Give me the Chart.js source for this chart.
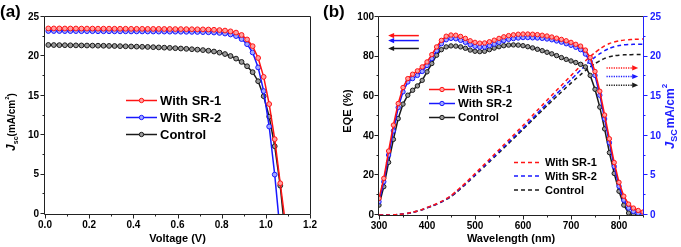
<!DOCTYPE html>
<html><head><meta charset="utf-8">
<script src="https://cdn.jsdelivr.net/npm/chart.js@4/dist/chart.umd.min.js"></script>
<style>
html,body{margin:0;padding:0;background:#fff;width:681px;height:247px;overflow:hidden}
canvas{position:absolute;top:0}
#ca{left:0}
#cb{left:318px}
</style></head><body>
<canvas id="ca" width="318" height="247"></canvas>
<canvas id="cb" width="363" height="247"></canvas>
<script>
// ---------- Panel (a): J-V data ----------
const voltage = [0.015,0.04,0.065,0.09,0.115,0.14,0.165,0.19,0.215,0.24,0.265,0.29,0.315,0.34,0.365,0.39,0.415,0.44,0.465,0.49,0.515,0.54,0.565,0.59,0.615,0.64,0.665,0.69,0.715,0.74,0.765,0.79,0.815,0.84,0.865,0.89,0.915,0.94,0.965,0.99,1.015,1.04,1.065];
const jvSR1 = [23.55,23.55,23.55,23.54,23.54,23.54,23.53,23.53,23.53,23.52,23.52,23.52,23.51,23.51,23.51,23.5,23.5,23.5,23.49,23.49,23.49,23.48,23.48,23.47,23.47,23.46,23.45,23.44,23.43,23.41,23.38,23.34,23.28,23.18,23.02,22.72,22.15,21.3,19.8,17.4,13.95,9.5,3.9];
const jvSR2 = [23.22,23.22,23.22,23.21,23.21,23.21,23.2,23.2,23.2,23.19,23.19,23.19,23.18,23.18,23.18,23.17,23.17,23.17,23.16,23.16,23.15,23.15,23.14,23.14,23.13,23.12,23.11,23.1,23.08,23.06,23.03,22.98,22.9,22.78,22.58,22.2,21.55,20.5,18.6,15.6,11.1,5.0];
const jvControl = [21.45,21.44,21.43,21.42,21.41,21.4,21.39,21.38,21.37,21.36,21.35,21.33,21.32,21.3,21.28,21.26,21.24,21.22,21.2,21.17,21.14,21.11,21.08,21.04,21.0,20.96,20.91,20.86,20.8,20.72,20.62,20.48,20.3,20.05,19.72,19.3,18.75,18.0,16.85,14.95,12.35,8.6,3.6];
const vocSR1 = 1.083, vocSR2 = 1.057, vocControl = 1.078;
const xTicksA = [0.0,0.2,0.4,0.6,0.8,1.0,1.2];
const yTicksA = [0,5,10,15,20,25];

// ---------- Panel (b): EQE data ----------
const wavelength = [300,310,320,330,340,350,360,370,380,390,400,410,420,430,440,450,460,470,480,490,500,510,520,530,540,550,560,570,580,590,600,610,620,630,640,650,660,670,680,690,700,710,720,730,740,750,760,770,780,790,800,810,820,830,840,850];
const eqeSR1 = [8.4,18.5,32.3,45.4,56.3,64.4,68.9,71.1,72.8,74.8,77.3,81.0,84.9,88.2,90.3,90.9,90.8,90.2,89.2,88.0,87.2,86.8,86.9,87.5,88.3,89.2,90.0,90.6,91.0,91.3,91.4,91.4,91.3,91.1,90.8,90.4,89.9,89.3,88.7,88.0,87.2,86.2,85.3,83.3,79.5,72.5,62.5,50.5,38.5,26.5,16.5,9.5,5.5,3.5,2.3,1.5];
const eqeSR2 = [6.7,16.8,30.3,42.5,54.3,62.2,67.2,68.9,70.5,72.5,75.5,79.0,83.0,86.5,88.5,89.2,89.0,88.2,87.2,86.0,85.2,84.8,84.8,85.5,86.3,87.2,88.1,88.7,89.1,89.4,89.6,89.6,89.5,89.4,89.2,88.9,88.5,87.9,87.3,86.5,85.7,84.7,83.5,81.3,77.5,70.5,60.5,48.5,36.5,24.5,14.5,7.5,3.5,1.8,0.9,0.5];
const eqeControl = [5.0,14.3,26.6,38.2,48.7,56.0,60.5,63.0,65.2,68.0,72.3,76.5,80.7,83.5,84.9,85.4,85.3,84.9,84.2,83.3,82.7,82.5,82.7,83.5,84.3,85.0,85.5,85.8,85.9,85.8,85.5,85.0,84.4,83.7,83.0,82.2,81.4,80.5,79.5,78.6,77.8,77.0,76.1,74.8,70.5,63.5,54.5,43.5,31.5,21.0,12.0,5.0,1.0,0.0,null,null];
const jscSR1 = [0,0,0,0.02,0.06,0.13,0.22,0.35,0.5,0.7,0.95,1.17,1.42,1.72,2.06,2.45,2.95,3.48,4.03,4.62,5.22,5.82,6.42,7.03,7.64,8.25,8.86,9.47,10.08,10.69,11.3,11.94,12.58,13.22,13.86,14.5,15.12,15.74,16.36,16.98,17.6,18.22,18.84,19.45,20.0,20.5,20.95,21.35,21.65,21.85,22.0,22.08,22.13,22.17,22.2,22.22];
const jscSR2 = [0,0,0,0.02,0.06,0.13,0.21,0.34,0.49,0.68,0.92,1.14,1.38,1.67,2.0,2.38,2.87,3.38,3.92,4.49,5.07,5.66,6.24,6.83,7.42,8.02,8.61,9.2,9.8,10.39,10.98,11.6,12.22,12.85,13.47,14.09,14.69,15.3,15.9,16.5,17.1,17.7,18.3,18.9,19.44,19.93,20.37,20.75,21.04,21.25,21.4,21.48,21.52,21.55,21.56,21.57];
const jscControl = [0,0,0,0.02,0.05,0.12,0.2,0.33,0.47,0.67,0.9,1.11,1.35,1.64,1.96,2.33,2.8,3.31,3.84,4.41,4.98,5.55,6.13,6.71,7.29,7.87,8.45,9.04,9.63,10.22,10.82,11.42,12.02,12.62,13.21,13.8,14.38,14.96,15.53,16.1,16.65,17.2,17.72,18.22,18.7,19.12,19.48,19.77,19.98,20.11,20.18,20.22,20.24,20.25,20.25,20.25];
const xTicksB = [300,400,500,600,700,800];
const yTicksEQE = [0,20,40,60,80,100];
const yTicksJsc = [0,5,10,15,20,25];
const labels = ['With SR-1','With SR-2','Control'];

// ---------- styles ----------
const FONT = '"Liberation Sans", Arial, Helvetica, sans-serif';
const RED = '#ff1414', BLUE = '#1818ff', BLACK = '#1a1a1a';
const RED_L = '#ffa0a0', BLUE_L = '#a0a8ff', BLACK_L = '#9a9a9a';
const AXBLUE = '#2020ff';

function pts(xs, ys, endX) {
  const out = [];
  ys.forEach((y, i) => { if (y !== null) out.push({x: xs[i], y: y}); });
  if (endX !== undefined) out.push({x: endX, y: 0});
  return out;
}
function isMajor(v, step) { return Math.abs(v / step - Math.round(v / step)) < 1e-6; }
function inList(v, list) { return list.some(t => Math.abs(t - v) < 1e-6); }

function richText(ctx, segs, cx, cy, rot, color) {
  ctx.save();
  ctx.translate(cx, cy); ctx.rotate(rot);
  let w = 0;
  segs.forEach(s => { ctx.font = s.f; s.w = ctx.measureText(s.t).width; w += s.w; });
  let x = -w / 2;
  ctx.fillStyle = color; ctx.textBaseline = 'alphabetic'; ctx.textAlign = 'left';
  segs.forEach(s => { ctx.font = s.f; ctx.fillText(s.t, x, s.dy); x += s.w + (s.gap || 0); });
  ctx.restore();
}

function drawLegend(ctx, chart, idxs, L) {
  idxs.forEach((di, r) => {
    const ds = chart.data.datasets[di];
    const y = L.ys[r];
    ctx.save();
    ctx.strokeStyle = ds.borderColor; ctx.lineWidth = 1.5;
    ctx.setLineDash(ds.borderDash || []);
    ctx.beginPath(); ctx.moveTo(L.x0, y); ctx.lineTo(L.x1, y); ctx.stroke();
    ctx.setLineDash([]);
    if (L.marker) {
      ctx.beginPath(); ctx.arc((L.x0 + L.x1) / 2, y, 2.2, 0, 2 * Math.PI);
      ctx.fillStyle = ds.pointBackgroundColor; ctx.fill();
      ctx.lineWidth = 1; ctx.stroke();
    }
    ctx.fillStyle = '#000'; ctx.font = L.font; ctx.textBaseline = 'middle'; ctx.textAlign = 'left';
    ctx.fillText(ds.label, L.tx, y + 0.5);
    ctx.restore();
  });
}

function drawFrameAndTicks(chart, frame, tickCfg) {
  const ctx = chart.ctx, a = chart.chartArea;
  const L = Math.round(a.left) - 0.5, R = Math.round(a.right) + 0.5;
  const T = Math.round(a.top) - 0.5, B = Math.round(a.bottom) + 0.5;
  ctx.save();
  ctx.lineWidth = 1;
  frame.forEach(f => {
    ctx.strokeStyle = f.color; ctx.beginPath();
    if (f.side === 'top') { ctx.moveTo(L, T); ctx.lineTo(R, T); }
    if (f.side === 'bottom') { ctx.moveTo(L, B); ctx.lineTo(R, B); }
    if (f.side === 'left') { ctx.moveTo(L, T); ctx.lineTo(L, B); }
    if (f.side === 'right') { ctx.moveTo(R, T); ctx.lineTo(R, B); }
    ctx.stroke();
  });
  tickCfg.forEach(tc => {
    const s = chart.scales[tc.id];
    ctx.strokeStyle = tc.color;
    s.ticks.forEach(t => {
      const len = isMajor(t.value, tc.major) ? 4 : 2;
      const p = Math.round(s.getPixelForValue(t.value)) + 0.5;
      ctx.beginPath();
      if (tc.side === 'bottom') { ctx.moveTo(p, B); ctx.lineTo(p, B + len); }
      if (tc.side === 'left') { ctx.moveTo(L, p - 1); ctx.lineTo(L - len, p - 1); }
      if (tc.side === 'right') { ctx.moveTo(R, p - 1); ctx.lineTo(R + len, p - 1); }
      ctx.stroke();
    });
  });
  ctx.restore();
}

function drawArrow(ctx, x0, y, x1, color, dotted) {
  const dir = Math.sign(x1 - x0);
  ctx.save();
  ctx.strokeStyle = color; ctx.fillStyle = color; ctx.lineWidth = 1.5;
  if (dotted) ctx.setLineDash([1.2, 1.2]);
  ctx.beginPath(); ctx.moveTo(x0, y); ctx.lineTo(x1 - dir * 4, y); ctx.stroke();
  ctx.setLineDash([]);
  ctx.beginPath(); ctx.moveTo(x1, y); ctx.lineTo(x1 - dir * 6, y - 2.6); ctx.lineTo(x1 - dir * 6, y + 2.6); ctx.closePath(); ctx.fill();
  ctx.restore();
}

const tickFont = {family: FONT, size: 10, weight: 'bold'};
const radiusNoEnd = c => (c.dataIndex === c.dataset.data.length - 1 ? 0 : 2.4);

// ---------- Chart (a) ----------
const decoA = {
  id: 'decoA',
  afterDatasetsDraw(chart) {
    drawFrameAndTicks(chart,
      [{side:'top',color:'#222'},{side:'right',color:'#222'},{side:'bottom',color:'#222'},{side:'left',color:'#222'}],
      [{id:'x', side:'bottom', major:0.2, color:'#222'},{id:'y', side:'left', major:5, color:'#222'}]);
  },
  afterDraw(chart) {
    const ctx = chart.ctx, a = chart.chartArea;
    drawLegend(ctx, chart, [0,1,2], {x0:126, x1:157, tx:160, ys:[100.5,117.5,134.5], font:'bold 13px ' + FONT, marker:true});
    ctx.save();
    ctx.fillStyle = '#000'; ctx.font = 'bold 11px ' + FONT; ctx.textAlign = 'center'; ctx.textBaseline = 'alphabetic';
    ctx.fillText('Voltage (V)', (a.left + a.right) / 2, 242);
    ctx.font = 'bold 17px ' + FONT; ctx.textAlign = 'left';
    ctx.fillText('(a)', 0, 17);
    ctx.restore();
    richText(ctx, [
      {t:'J', f:'italic bold 12px ' + FONT, dy:0},
      {t:'sc', f:'bold 7px ' + FONT, dy:3},
      {t:'(mA/cm', f:'bold 10px ' + FONT, dy:0},
      {t:'2', f:'bold 6px ' + FONT, dy:-6},
      {t:')', f:'bold 10px ' + FONT, dy:0}
    ], 15, 122, -Math.PI / 2, '#000');
  }
};

new Chart(document.getElementById('ca'), {
  type: 'line',
  data: {
    datasets: [
      {label: labels[0], data: pts(voltage, jvSR1, vocSR1), borderColor: RED, pointBackgroundColor: RED_L, pointBorderColor: RED},
      {label: labels[1], data: pts(voltage, jvSR2, vocSR2), borderColor: BLUE, pointBackgroundColor: BLUE_L, pointBorderColor: BLUE},
      {label: labels[2], data: pts(voltage, jvControl, vocControl), borderColor: BLACK, pointBackgroundColor: BLACK_L, pointBorderColor: BLACK}
    ].map(d => Object.assign(d, {borderWidth: 1.5, pointRadius: radiusNoEnd, pointBorderWidth: 1, tension: 0, fill: false}))
  },
  options: {
    responsive: false, animation: false, devicePixelRatio: 1,
    layout: {padding: {top: 17, right: 6, left: 0, bottom: 0}},
    plugins: {legend: {display: false}, tooltip: {enabled: false}},
    scales: {
      x: {type: 'linear', min: 0, max: 1.2, afterFit: s => { s.height = 33; },
        grid: {display: false, drawTicks: true, tickLength: 4}, border: {display: false},
        ticks: {stepSize: 0.1, autoSkip: false, maxRotation: 0, padding: 1, color: '#000', font: tickFont,
          callback: v => inList(v, xTicksA) ? v.toFixed(1) : ''}},
      y: {type: 'linear', min: 0, max: 25, afterFit: s => { s.width = 45; },
        grid: {display: false, drawTicks: true, tickLength: 4}, border: {display: false},
        ticks: {stepSize: 2.5, autoSkip: false, padding: 2, color: '#000', font: tickFont,
          callback: v => inList(v, yTicksA) ? String(v) : ''}}
    }
  },
  plugins: [decoA]
});

// ---------- Chart (b) ----------
const arrowsLeft = [{from: 383, to: 319, eqe: 90.6}, {from: 383, to: 319, eqe: 88.1}, {from: 383, to: 319, eqe: 84.1}];
const arrowsRight = [{from: 774, to: 840, jsc: 18.57}, {from: 774, to: 840, jsc: 17.49}, {from: 774, to: 840, jsc: 16.39}];
const arrowColors = [RED, BLUE, BLACK];

const decoB = {
  id: 'decoB',
  afterDatasetsDraw(chart) {
    drawFrameAndTicks(chart,
      [{side:'top',color:'#222'},{side:'bottom',color:'#222'},{side:'left',color:'#222'},{side:'right',color:AXBLUE}],
      [{id:'x', side:'bottom', major:100, color:'#222'},{id:'y', side:'left', major:20, color:'#222'},{id:'y2', side:'right', major:5, color:AXBLUE}]);
  },
  afterDraw(chart) {
    const ctx = chart.ctx, a = chart.chartArea, sx = chart.scales.x, sy = chart.scales.y, sy2 = chart.scales.y2;
    arrowsLeft.forEach((ar, i) => drawArrow(ctx, sx.getPixelForValue(ar.from), sy.getPixelForValue(ar.eqe), sx.getPixelForValue(ar.to), arrowColors[i], false));
    arrowsRight.forEach((ar, i) => drawArrow(ctx, sx.getPixelForValue(ar.from), sy2.getPixelForValue(ar.jsc), sx.getPixelForValue(ar.to), arrowColors[i], true));
    drawLegend(ctx, chart, [0,1,2], {x0:111, x1:137, tx:140, ys:[89.5,103.5,117.5], font:'bold 11.5px ' + FONT, marker:true});
    drawLegend(ctx, chart, [3,4,5], {x0:196, x1:224, tx:227, ys:[162.5,176,190], font:'bold 11px ' + FONT, marker:false});
    ctx.save();
    ctx.fillStyle = '#000'; ctx.font = 'bold 11px ' + FONT; ctx.textAlign = 'center'; ctx.textBaseline = 'alphabetic';
    ctx.fillText('Wavelength (nm)', (a.left + a.right) / 2, 242);
    ctx.font = 'bold 17px ' + FONT; ctx.textAlign = 'left';
    ctx.fillText('(b)', 5, 17);
    ctx.restore();
    richText(ctx, [{t:'EQE (%)', f:'bold 11px ' + FONT, dy:0}], 33, 111, -Math.PI / 2, '#000');
    richText(ctx, [
      {t:'J', f:'italic bold 13px ' + FONT, dy:0},
      {t:'SC', f:'bold 9px ' + FONT, dy:3, gap:1},
      {t:'mA/cm', f:'bold 12px ' + FONT, dy:0},
      {t:'2', f:'bold 8px ' + FONT, dy:-7}
    ], 356, 117, -Math.PI / 2, AXBLUE);
  }
};

const eqeStyle = {borderWidth: 1.5, pointRadius: 2.2, pointBorderWidth: 1, tension: 0, fill: false, yAxisID: 'y'};
const jscStyle = {borderWidth: 1.5, pointRadius: 0, borderDash: [4, 3], tension: 0.2, fill: false, yAxisID: 'y2'};

new Chart(document.getElementById('cb'), {
  type: 'line',
  data: {
    datasets: [
      Object.assign({label: labels[0], data: pts(wavelength, eqeSR1), borderColor: RED, pointBackgroundColor: RED_L, pointBorderColor: RED}, eqeStyle),
      Object.assign({label: labels[1], data: pts(wavelength, eqeSR2), borderColor: BLUE, pointBackgroundColor: BLUE_L, pointBorderColor: BLUE}, eqeStyle),
      Object.assign({label: labels[2], data: pts(wavelength, eqeControl), borderColor: BLACK, pointBackgroundColor: BLACK_L, pointBorderColor: BLACK}, eqeStyle),
      Object.assign({label: labels[0], data: pts(wavelength, jscSR1), borderColor: RED}, jscStyle),
      Object.assign({label: labels[1], data: pts(wavelength, jscSR2), borderColor: BLUE}, jscStyle),
      Object.assign({label: labels[2], data: pts(wavelength, jscControl), borderColor: BLACK}, jscStyle)
    ]
  },
  options: {
    responsive: false, animation: false, devicePixelRatio: 1,
    layout: {padding: {top: 17, right: 0, left: 0, bottom: 0}},
    plugins: {legend: {display: false}, tooltip: {enabled: false}},
    scales: {
      x: {type: 'linear', min: 300, max: 850, afterFit: s => { s.height = 32; },
        grid: {display: false, drawTicks: true, tickLength: 4}, border: {display: false},
        ticks: {stepSize: 50, autoSkip: false, maxRotation: 0, padding: 1, color: '#000', font: tickFont,
          callback: v => inList(v, xTicksB) ? String(v) : ''}},
      y: {type: 'linear', position: 'left', min: 0, max: 100, afterFit: s => { s.width = 61; },
        grid: {display: false, drawTicks: true, tickLength: 4}, border: {display: false},
        ticks: {stepSize: 10, autoSkip: false, padding: 1, color: '#000', font: tickFont,
          callback: v => inList(v, yTicksEQE) ? String(v) : ''}},
      y2: {type: 'linear', position: 'right', min: 0, max: 25, afterFit: s => { s.width = 38; },
        grid: {display: false, drawTicks: true, tickLength: 4}, border: {display: false},
        ticks: {stepSize: 2.5, autoSkip: false, padding: 3, color: AXBLUE, font: tickFont,
          callback: v => inList(v, yTicksJsc) ? String(v) : ''}}
    }
  },
  plugins: [decoB]
});
</script>
</body></html>
